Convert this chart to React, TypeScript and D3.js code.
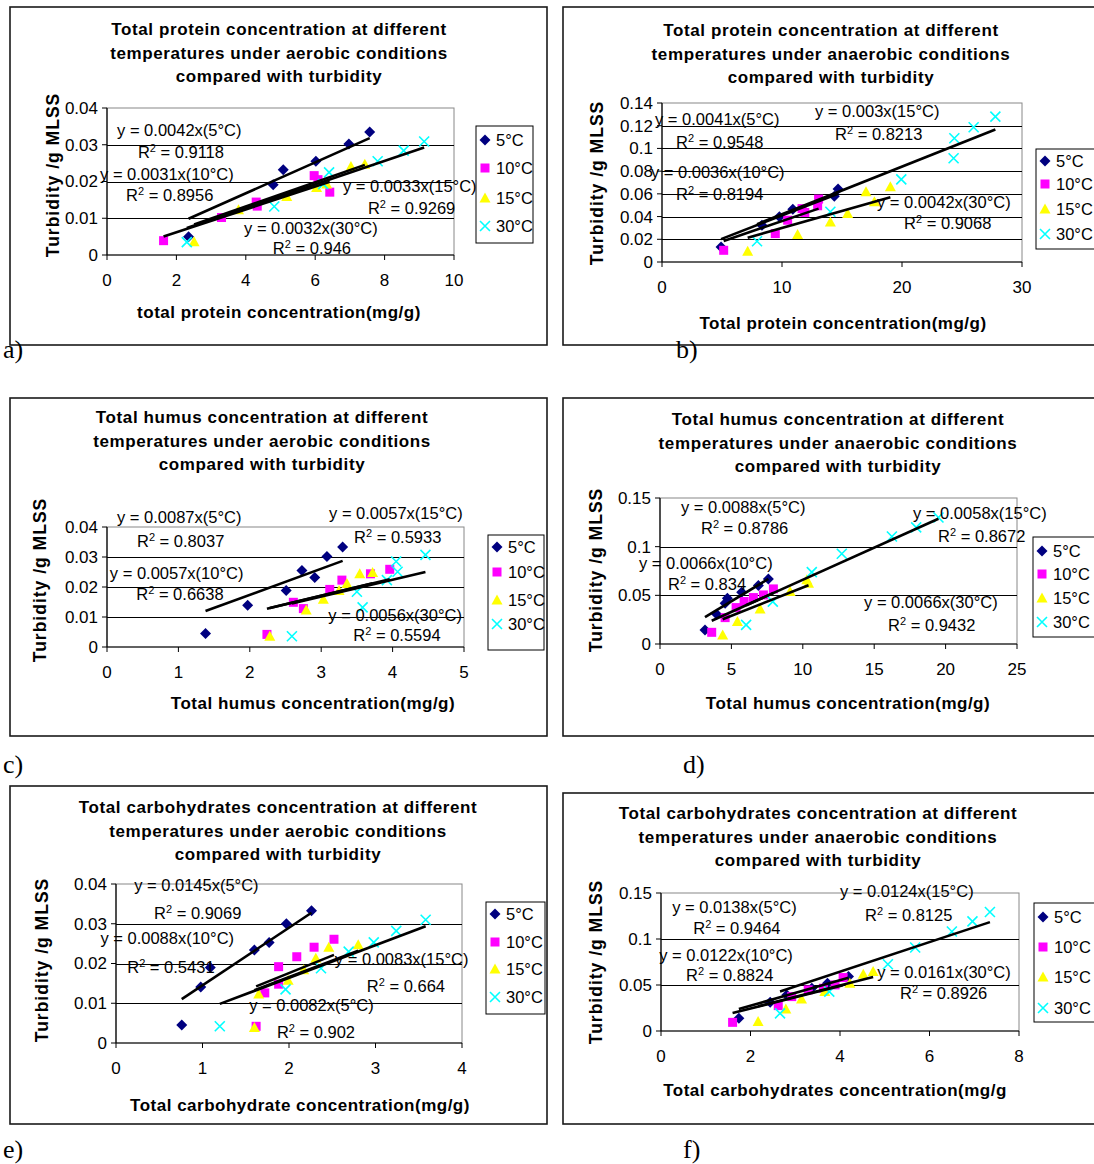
import React from "react";
import * as d3 from "d3";

type Pt = [number, number];

const temps = ["5°C", "10°C", "15°C", "30°C"];
const colors = ["#000080", "#FF00FF", "#FFFF00", "#00FFFF"];

// a) protein, aerobic
const protAer5: Pt[] = [[2.35, 0.005], [4.79, 0.0191], [5.08, 0.0232], [6.02, 0.0255], [6.97, 0.0302], [7.57, 0.0335]];
const protAer10: Pt[] = [[1.63, 0.0039], [3.3, 0.0102], [4.3, 0.0144], [4.33, 0.0133], [5.97, 0.0216], [6.08, 0.0205], [6.42, 0.0171]];
const protAer15: Pt[] = [[2.51, 0.0036], [3.79, 0.0123], [5.18, 0.0159], [6.04, 0.0184], [6.33, 0.0193], [7.03, 0.0241], [7.43, 0.0247]];
const protAer30: Pt[] = [[2.3, 0.0035], [4.82, 0.0132], [6.23, 0.0193], [6.4, 0.0225], [7.8, 0.0255], [8.55, 0.0284], [9.14, 0.0309]];
const protAerSlopes = [0.0042, 0.0031, 0.0033, 0.0032];
const protAerEq = ["y = 0.0042x(5°C)", "y = 0.0031x(10°C)", "y = 0.0033x(15°C)", "y = 0.0032x(30°C)"];
const protAerR2 = ["0.9118", "0.8956", "0.9269", "0.946"];

// b) protein, anaerobic
const protAn5: Pt[] = [[4.92, 0.0133], [8.33, 0.0324], [9.78, 0.0398], [10.9, 0.0465], [14.36, 0.058], [14.67, 0.0642]];
const protAn10: Pt[] = [[5.14, 0.0103], [9.44, 0.025], [10.47, 0.0368], [11.67, 0.047], [11.9, 0.0436], [12.97, 0.0495], [13.05, 0.0554]];
const protAn15: Pt[] = [[7.14, 0.0094], [11.3, 0.0242], [14.03, 0.0353], [15.47, 0.0427], [17.0, 0.0619], [17.7, 0.053], [19.03, 0.0663]];
const protAn30: Pt[] = [[7.92, 0.0183], [14.03, 0.0442], [19.94, 0.0727], [24.3, 0.0913], [24.36, 0.109], [25.97, 0.1187], [27.78, 0.128]];
const protAnSlopes = [0.0041, 0.0036, 0.003, 0.0042];
const protAnEq = ["y = 0.0041x(5°C)", "y = 0.0036x(10°C)", "y = 0.003x(15°C)", "y = 0.0042x(30°C)"];
const protAnR2 = ["0.9548", "0.8194", "0.8213", "0.9068"];

// c) humus, aerobic
const humAer5: Pt[] = [[1.38, 0.0045], [1.97, 0.0139], [2.51, 0.0188], [2.73, 0.0255], [2.91, 0.0232], [3.08, 0.0302], [3.3, 0.0333]];
const humAer10: Pt[] = [[2.24, 0.0042], [2.61, 0.0149], [2.75, 0.0128], [3.12, 0.0192], [3.29, 0.0223], [3.69, 0.0244], [3.96, 0.0259]];
const humAer15: Pt[] = [[2.28, 0.0036], [2.79, 0.0123], [3.03, 0.0159], [3.25, 0.0188], [3.36, 0.0212], [3.54, 0.0244], [3.72, 0.0248]];
const humAer30: Pt[] = [[2.59, 0.0036], [3.5, 0.0184], [3.58, 0.0132], [3.92, 0.0223], [4.05, 0.0285], [4.07, 0.0251], [4.46, 0.0307]];
const humAerSlopes = [0.0087, 0.0057, 0.0057, 0.0056];
const humAerEq = ["y = 0.0087x(5°C)", "y = 0.0057x(10°C)", "y = 0.0057x(15°C)", "y = 0.0056x(30°C)"];
const humAerR2 = ["0.8037", "0.6638", "0.5933", "0.5594"];

// d) humus, anaerobic
const humAn5: Pt[] = [[3.15, 0.0144], [3.97, 0.0305], [4.56, 0.0419], [4.72, 0.047], [5.72, 0.0532], [6.89, 0.06], [7.59, 0.0669]];
const humAn10: Pt[] = [[3.62, 0.012], [4.56, 0.0271], [5.33, 0.0374], [5.89, 0.0436], [6.54, 0.0477], [7.24, 0.0504], [7.94, 0.0566]];
const humAn15: Pt[] = [[4.39, 0.0093], [5.42, 0.023], [7.01, 0.036], [9.11, 0.0539], [10.28, 0.0659], [10.4, 0.0625]];
const humAn30: Pt[] = [[6.03, 0.0196], [7.9, 0.0436], [10.63, 0.0738], [12.73, 0.0927], [16.24, 0.1105], [17.94, 0.1198], [19.5, 0.13]];
const humAnSlopes = [0.0088, 0.0066, 0.0058, 0.0066];
const humAnEq = ["y = 0.0088x(5°C)", "y = 0.0066x(10°C)", "y = 0.0058x(15°C)", "y = 0.0066x(30°C)"];
const humAnR2 = ["0.8786", "0.834", "0.8672", "0.9432"];

// e) carbohydrates, aerobic
const carbAer5: Pt[] = [[0.76, 0.0045], [0.98, 0.0141], [1.09, 0.019], [1.6, 0.0234], [1.77, 0.0253], [1.97, 0.03], [2.26, 0.0333]];
const carbAer10: Pt[] = [[1.62, 0.0042], [1.72, 0.0126], [1.88, 0.0148], [1.88, 0.0192], [2.09, 0.0217], [2.29, 0.0241], [2.52, 0.0261]];
const carbAer15: Pt[] = [[1.6, 0.0039], [1.65, 0.0123], [1.99, 0.0158], [2.17, 0.0184], [2.31, 0.0213], [2.46, 0.0241], [2.8, 0.0247]];
const carbAer30: Pt[] = [[1.2, 0.0042], [1.96, 0.0135], [2.37, 0.0188], [2.69, 0.023], [2.98, 0.0253], [3.24, 0.0282], [3.58, 0.031]];
const carbAerSlopes = [0.0145, 0.0088, 0.0083, 0.0082];
const carbAerEq = ["y = 0.0145x(5°C)", "y = 0.0088x(10°C)", "y = 0.0083x(15°C)", "y = 0.0082x(5°C)"];
const carbAerR2 = ["0.9069", "0.5431", "0.664", "0.902"];

// f) carbohydrates, anaerobic
const carbAn5: Pt[] = [[1.74, 0.0138], [2.44, 0.0312], [2.81, 0.0392], [3.37, 0.0465], [3.72, 0.0519], [4.19, 0.0592]];
const carbAn10: Pt[] = [[1.6, 0.0094], [2.62, 0.0276], [2.92, 0.0374], [3.29, 0.0447], [3.63, 0.0465], [3.89, 0.0501], [4.07, 0.0581]];
const carbAn15: Pt[] = [[2.17, 0.0102], [2.79, 0.024], [3.14, 0.0349], [3.66, 0.0428], [4.22, 0.0519], [4.52, 0.0617], [4.74, 0.0646]];
const carbAn30: Pt[] = [[2.66, 0.0192], [3.76, 0.0428], [5.07, 0.0726], [5.68, 0.0908], [6.5, 0.1082], [6.96, 0.1191], [7.35, 0.1293]];
const carbAnSlopes = [0.0138, 0.0122, 0.0124, 0.0161];
const carbAnEq = ["y = 0.0138x(5°C)", "y = 0.0122x(10°C)", "y = 0.0124x(15°C)", "y = 0.0161x(30°C)"];
const carbAnR2 = ["0.9464", "0.8824", "0.8125", "0.8926"];

const FONT = "'Liberation Sans', Arial, sans-serif";

interface PanelCfg {
  tag: string;
  tagPos: [number, number];
  frame: [number, number, number, number]; // x0, y0, x1, y1
  plot: [number, number, number, number]; // left, top, right, bottom
  xTicks: number[];
  yTicks: number[];
  title: string[];
  titleX: number;
  titleY: number;
  xTitle: string;
  xTitlePos: [number, number];
  yTitlePos: [number, number];
  series: Pt[][];
  slopes: number[];
  eqs: string[];
  r2s: string[];
  eqPos: Pt[]; // in data units
  r2Pos: Pt[];
  legend: [number, number, number, number]; // x, y, w, h
  legendRows: number[];
}

const fmt = (v: number) => String(+v.toFixed(3));

function Marker({ kind, x, y }: { kind: number; x: number; y: number }) {
  const c = colors[kind];
  if (kind === 0)
    return <path d={`M${x},${y - 5.5}L${x + 5.5},${y}L${x},${y + 5.5}L${x - 5.5},${y}Z`} fill={c} />;
  if (kind === 1) return <rect x={x - 4.5} y={y - 4.5} width={9} height={9} fill={c} />;
  if (kind === 2)
    return <path d={`M${x},${y - 5.5}L${x + 5.5},${y + 4.5}L${x - 5.5},${y + 4.5}Z`} fill={c} />;
  return (
    <path
      d={`M${x - 5},${y - 5}L${x + 5},${y + 5}M${x - 5},${y + 5}L${x + 5},${y - 5}`}
      stroke={c}
      strokeWidth={1.6}
      fill="none"
    />
  );
}

function R2Text({ x, y, v }: { x: number; y: number; v: string }) {
  return (
    <text x={x} y={y} dy="0.35em" fontSize={16.5}>
      R<tspan dy={-6} fontSize={11}>2</tspan>
      <tspan dy={6}>{` = ${v}`}</tspan>
    </text>
  );
}

function Panel({ p }: { p: PanelCfg }) {
  const [pl, pt, pr, pb] = p.plot;
  const x = d3.scaleLinear().domain([0, p.xTicks[p.xTicks.length - 1]]).range([pl, pr]);
  const y = d3.scaleLinear().domain([0, p.yTicks[p.yTicks.length - 1]]).range([pb, pt]);
  const line = d3
    .line<Pt>()
    .x((d) => x(d[0]))
    .y((d) => y(d[1]));
  const [fx0, fy0, fx1, fy1] = p.frame;
  const [lx, ly, lw, lh] = p.legend;

  return (
    <g fontFamily={FONT} fill="#000">
      <rect x={fx0} y={fy0} width={fx1 - fx0} height={fy1 - fy0} fill="#fff" stroke="#1a1a1a" strokeWidth={1.6} />
      <text x={p.tagPos[0]} y={p.tagPos[1]} fontFamily="'Liberation Serif', 'Times New Roman', serif" fontSize={26}>
        {p.tag}
      </text>
      {p.title.map((t, i) => (
        <text
          key={i}
          x={p.titleX}
          y={p.titleY + i * 23.7}
          dy="0.35em"
          textAnchor="middle"
          fontWeight="bold"
          fontSize={17}
          letterSpacing={0.6}
        >
          {t}
        </text>
      ))}

      {/* plot area + gridlines */}
      <rect x={pl} y={pt} width={pr - pl} height={pb - pt} fill="#fff" stroke="#888" strokeWidth={1} />
      {p.yTicks.slice(1, -1).map((v) => (
        <line key={v} x1={pl} x2={pr} y1={Math.round(y(v)) + 0.5} y2={Math.round(y(v)) + 0.5} stroke="#000" strokeWidth={1} />
      ))}

      {/* axes */}
      <line x1={pl} x2={pl} y1={pt} y2={pb} stroke="#000" strokeWidth={1.2} />
      <line x1={pl} x2={pr} y1={pb} y2={pb} stroke="#000" strokeWidth={1.2} />
      {p.yTicks.map((v) => (
        <g key={"y" + v}>
          <line x1={pl - 5} x2={pl} y1={y(v)} y2={y(v)} stroke="#000" />
          <text x={pl - 9} y={y(v)} dy="0.35em" textAnchor="end" fontSize={17}>
            {fmt(v)}
          </text>
        </g>
      ))}
      {p.xTicks.map((v) => (
        <g key={"x" + v}>
          <line x1={x(v)} x2={x(v)} y1={pb} y2={pb + 5} stroke="#000" />
          <text x={x(v)} y={pb + 25} dy="0.35em" textAnchor="middle" fontSize={17}>
            {fmt(v)}
          </text>
        </g>
      ))}
      <text
        x={p.xTitlePos[0]}
        y={p.xTitlePos[1]}
        dy="0.35em"
        textAnchor="middle"
        fontWeight="bold"
        fontSize={17}
        letterSpacing={0.5}
      >
        {p.xTitle}
      </text>
      <text
        transform={`translate(${p.yTitlePos[0]},${p.yTitlePos[1]}) rotate(-90)`}
        dy="0.35em"
        textAnchor="middle"
        fontWeight="bold"
        fontSize={17.5}
        letterSpacing={1}
      >
        Turbidity /g MLSS
      </text>

      {/* points */}
      {p.series.map((s, k) => (
        <g key={"s" + k}>
          {s.map((d, i) => (
            <Marker key={i} kind={k} x={x(d[0])} y={y(d[1])} />
          ))}
        </g>
      ))}

      {/* linear trendlines through the origin */}
      {p.series.map((s, k) => {
        const [x0, x1] = d3.extent(s, (d) => d[0]) as [number, number];
        return (
          <path
            key={"t" + k}
            d={line([
              [x0, p.slopes[k] * x0],
              [x1, p.slopes[k] * x1],
            ]) as string}
            stroke="#000"
            strokeWidth={2.6}
            fill="none"
          />
        );
      })}

      {/* equations */}
      {p.eqs.map((t, k) => (
        <text key={"e" + k} x={x(p.eqPos[k][0])} y={y(p.eqPos[k][1])} dy="0.35em" fontSize={16.5}>
          {t}
        </text>
      ))}
      {p.r2s.map((t, k) => (
        <R2Text key={"r" + k} x={x(p.r2Pos[k][0])} y={y(p.r2Pos[k][1])} v={t} />
      ))}

      {/* legend */}
      <rect x={lx} y={ly} width={lw} height={lh} fill="#fff" stroke="#000" strokeWidth={1} />
      {temps.map((t, k) => (
        <g key={"l" + k}>
          <Marker kind={k} x={lx + 9} y={p.legendRows[k]} />
          <text x={lx + 20} y={p.legendRows[k]} dy="0.35em" fontSize={16.5}>
            {t}
          </text>
        </g>
      ))}
    </g>
  );
}

const panels: PanelCfg[] = [
  {
    tag: "a)",
    tagPos: [3, 358],
    frame: [10, 7, 547, 345],
    plot: [107, 108, 454, 255],
    xTicks: [0, 2, 4, 6, 8, 10],
    yTicks: [0, 0.01, 0.02, 0.03, 0.04],
    title: ["Total protein concentration at different", "temperatures under aerobic conditions", "compared with turbidity"],
    titleX: 279,
    titleY: 29,
    xTitle: "total protein concentration(mg/g)",
    xTitlePos: [279, 312],
    yTitlePos: [53, 175],
    series: [protAer5, protAer10, protAer15, protAer30],
    slopes: protAerSlopes,
    eqs: protAerEq,
    r2s: protAerR2,
    eqPos: [[0.29, 0.034], [-0.2, 0.022], [6.8, 0.0188], [3.95, 0.0073]],
    r2Pos: [[0.89, 0.028], [0.55, 0.0163], [7.52, 0.0128], [4.78, 0.0019]],
    legend: [476, 126, 57, 117],
    legendRows: [140, 168, 198, 226],
  },
  {
    tag: "b)",
    tagPos: [676, 358],
    frame: [563, 7, 1110, 345],
    plot: [662, 103, 1022, 262],
    xTicks: [0, 10, 20, 30],
    yTicks: [0, 0.02, 0.04, 0.06, 0.08, 0.1, 0.12, 0.14],
    title: ["Total protein concentration at different", "temperatures under anaerobic conditions", "compared with turbidity"],
    titleX: 831,
    titleY: 30,
    xTitle: "Total protein  concentration(mg/g)",
    xTitlePos: [843, 323],
    yTitlePos: [597, 183],
    series: [protAn5, protAn10, protAn15, protAn30],
    slopes: protAnSlopes,
    eqs: protAnEq,
    r2s: protAnR2,
    eqPos: [[-0.58, 0.126], [-0.92, 0.0792], [12.75, 0.133], [17.92, 0.0528]],
    r2Pos: [[1.17, 0.1057], [1.17, 0.0599], [14.42, 0.1127], [20.17, 0.0343]],
    legend: [1036, 149, 80, 100],
    legendRows: [161, 184, 209, 234],
  },
  {
    tag: "c)",
    tagPos: [3, 773],
    frame: [10, 398, 547, 736],
    plot: [107, 527, 464, 647],
    xTicks: [0, 1, 2, 3, 4, 5],
    yTicks: [0, 0.01, 0.02, 0.03, 0.04],
    title: ["Total humus concentration at different", "temperatures under aerobic conditions", "compared with turbidity"],
    titleX: 262,
    titleY: 417,
    xTitle: "Total humus concentration(mg/g)",
    xTitlePos: [313, 703],
    yTitlePos: [40, 580],
    series: [humAer5, humAer10, humAer15, humAer30],
    slopes: humAerSlopes,
    eqs: humAerEq,
    r2s: humAerR2,
    eqPos: [[0.14, 0.0433], [0.04, 0.0247], [3.11, 0.0447], [3.1, 0.0107]],
    r2Pos: [[0.42, 0.0353], [0.41, 0.0177], [3.46, 0.0367], [3.45, 0.004]],
    legend: [488, 535, 56, 115],
    legendRows: [547, 572, 600, 624],
  },
  {
    tag: "d)",
    tagPos: [683, 773],
    frame: [563, 398, 1110, 736],
    plot: [660, 498, 1017, 644],
    xTicks: [0, 5, 10, 15, 20, 25],
    yTicks: [0, 0.05, 0.1, 0.15],
    title: ["Total humus concentration at different", "temperatures under anaerobic conditions", "compared with turbidity"],
    titleX: 838,
    titleY: 419,
    xTitle: "Total humus concentration(mg/g)",
    xTitlePos: [848, 703],
    yTitlePos: [596, 570],
    series: [humAn5, humAn10, humAn15, humAn30],
    slopes: humAnSlopes,
    eqs: humAnEq,
    r2s: humAnR2,
    eqPos: [[1.47, 0.1408], [-1.47, 0.0832], [17.72, 0.1346], [14.29, 0.0432]],
    r2Pos: [[2.87, 0.1192], [0.56, 0.0616], [19.47, 0.111], [15.97, 0.0195]],
    legend: [1033, 537, 80, 100],
    legendRows: [551, 574, 598, 622],
  },
  {
    tag: "e)",
    tagPos: [3, 1158],
    frame: [10, 786, 547, 1124],
    plot: [116, 884, 462, 1043],
    xTicks: [0, 1, 2, 3, 4],
    yTicks: [0, 0.01, 0.02, 0.03, 0.04],
    title: ["Total carbohydrates concentration at different", "temperatures under aerobic conditions", "compared with turbidity"],
    titleX: 278,
    titleY: 807,
    xTitle: "Total carbohydrate concentration(mg/g)",
    xTitlePos: [300, 1105],
    yTitlePos: [42, 960],
    series: [carbAer5, carbAer10, carbAer15, carbAer30],
    slopes: carbAerSlopes,
    eqs: carbAerEq,
    r2s: carbAerR2,
    eqPos: [[0.21, 0.0397], [-0.18, 0.0264], [2.53, 0.0211], [1.54, 0.0096]],
    r2Pos: [[0.44, 0.0327], [0.13, 0.0191], [2.9, 0.0143], [1.86, 0.0028]],
    legend: [486, 902, 59, 112],
    legendRows: [914, 942, 969, 997],
  },
  {
    tag: "f)",
    tagPos: [683, 1158],
    frame: [563, 793, 1110, 1124],
    plot: [661, 893, 1019, 1031],
    xTicks: [0, 2, 4, 6, 8],
    yTicks: [0, 0.05, 0.1, 0.15],
    title: ["Total carbohydrates concentration at different", "temperatures under anaerobic conditions", "compared with turbidity"],
    titleX: 818,
    titleY: 813,
    xTitle: "Total carbohydrates concentration(mg/g",
    xTitlePos: [835, 1090],
    yTitlePos: [596, 962],
    series: [carbAn5, carbAn10, carbAn15, carbAn30],
    slopes: carbAnSlopes,
    eqs: carbAnEq,
    r2s: carbAnR2,
    eqPos: [[0.25, 0.1348], [-0.04, 0.0826], [4.0, 0.1522], [4.83, 0.0641]],
    r2Pos: [[0.72, 0.112], [0.56, 0.0609], [4.56, 0.1261], [5.34, 0.0413]],
    legend: [1034, 903, 80, 119],
    legendRows: [917, 947, 977, 1008],
  },
];

export default function App() {
  return (
    <svg
      width={1094}
      height={1164}
      style={{ position: "absolute", left: 0, top: 0, background: "#fff" }}
    >
      {panels.map((p) => (
        <Panel key={p.tag} p={p} />
      ))}
    </svg>
  );
}
